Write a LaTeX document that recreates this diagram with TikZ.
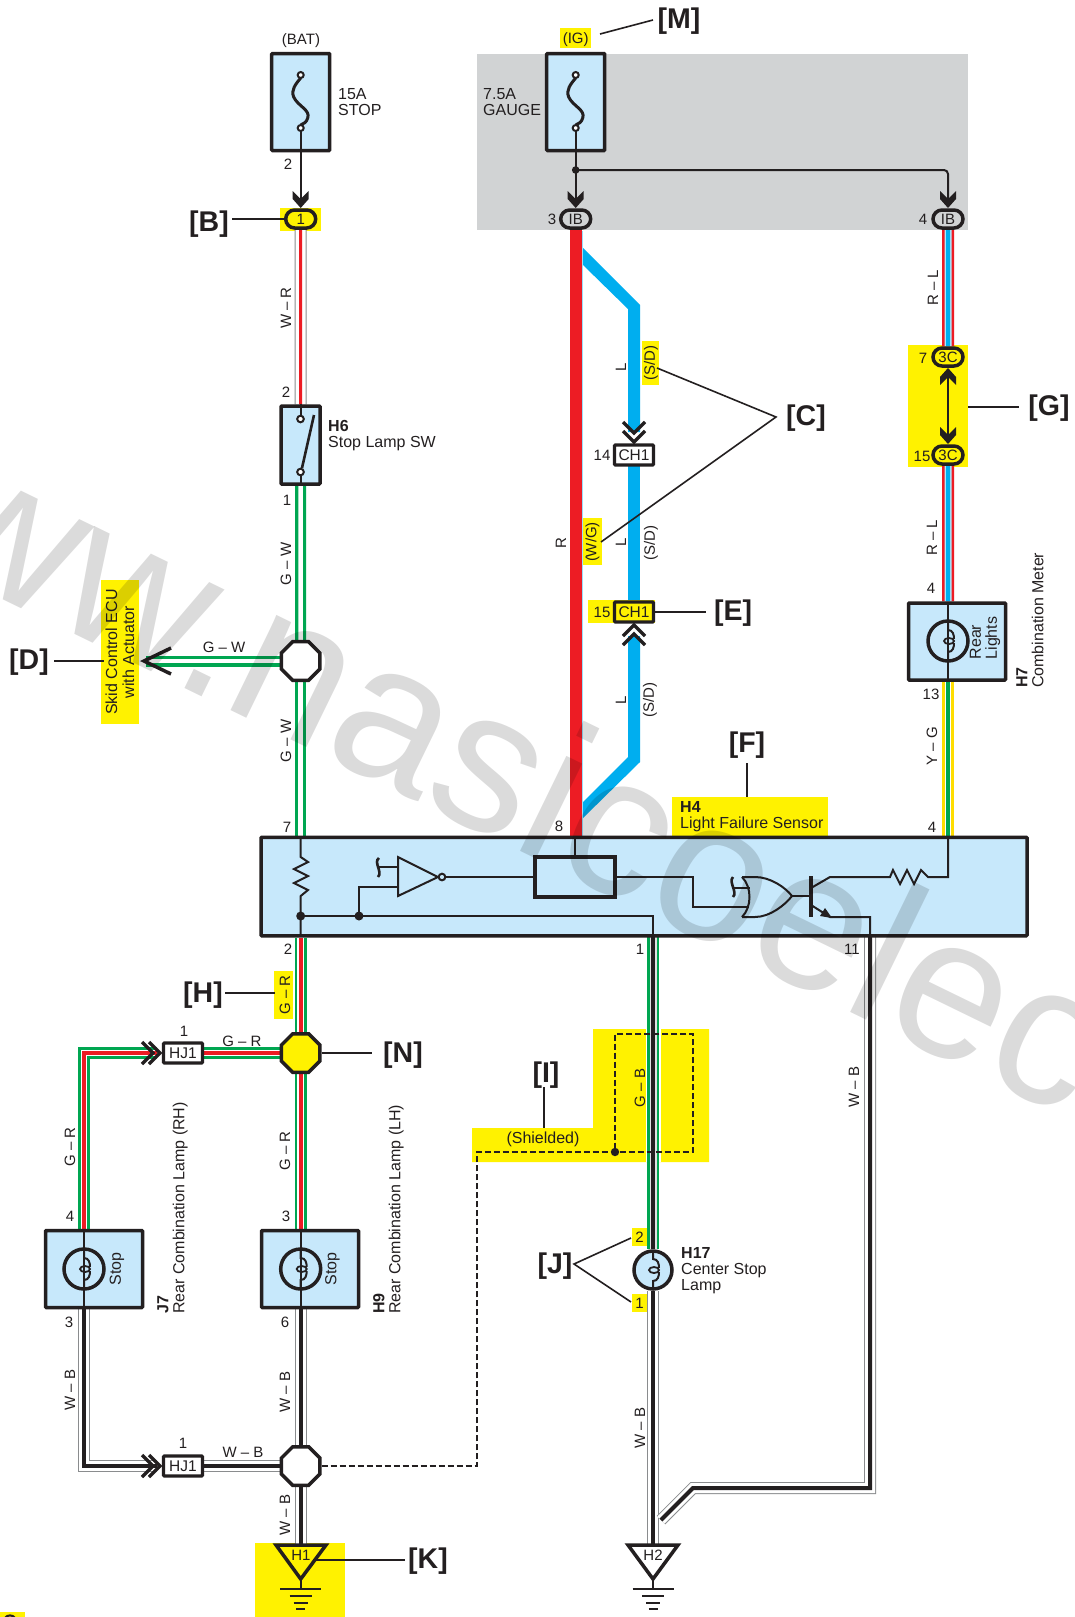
\documentclass[tikz,border=0pt]{standalone}
\usepackage{fontspec}
\setmainfont{Liberation Sans}
\usetikzlibrary{shapes.geometric,shapes.misc}
\definecolor{ink}{HTML}{231F20}
\definecolor{boxblue}{HTML}{C7E8FB}
\definecolor{hl}{HTML}{FFF200}
\definecolor{pgrey}{HTML}{D1D3D4}
\definecolor{wred}{HTML}{ED1C24}
\definecolor{wgreen}{HTML}{00A651}
\definecolor{wblue}{HTML}{00AEEF}
\definecolor{wyel}{HTML}{FFDD00}
\definecolor{wgrey}{HTML}{8A8C8E}
\pgfdeclarelayer{bglayer}
\pgfdeclarelayer{wirelayer}
\pgfdeclarelayer{toplayer}
\pgfsetlayers{bglayer,wirelayer,main,toplayer}
\newcommand\wirethree[6]{%
  \draw[line width=#4,#1] #6;
  \draw[line width=#5,#2] #6;
  \draw[line width=3,#3] #6;}
\newcommand\wireWR[1]{\wirethree{wgrey}{white}{wred}{12}{10}{#1}}
\newcommand\wireWB[1]{\draw[line width=12,wgrey] #1; \draw[line width=10,white] #1; \draw[line width=4,ink] #1;}
\newcommand\wireGW[1]{\draw[line width=11,wgreen] #1; \draw[line width=4.5,white] #1;}
\newcommand\wireGR[1]{\draw[line width=12,wgreen] #1; \draw[line width=6.5,white] #1; \draw[line width=4,wred] #1;}
\newcommand\wireGB[1]{\draw[line width=12.5,wgreen] #1; \draw[line width=7,pgrey!70!white] #1; \draw[line width=4,ink] #1;}
\newcommand\wireRL[1]{\draw[line width=12,wred] #1; \draw[line width=7,white!70!wblue] #1; \draw[line width=4,wblue] #1;}
\newcommand\wireYG[1]{\draw[line width=12,wyel] #1; \draw[line width=6.5,white] #1; \draw[line width=3.5,wgreen] #1;}
\newcommand\solidchev[3]{\fill[ink,shift={(#1,#2)},yscale=#3] (0,0)--(-8,-9)--(-8,-17)--(0,-9)--(8,-17)--(8,-9)--cycle;}
\newcommand\openchev[4]{\draw[ink,line width=3.3,miter limit=10,shift={(#1,#2)},rotate=#3] (-#4,-#4)--(0,0)--(#4,-#4);}
\newcommand\lampsym[2]{%
  \begin{scope}[shift={(#1,#2)}]
  \draw[ink,line width=2] (0,-20) -- (0,-11) .. controls (5,-11) and (6,-6) .. (6,-2) ;
  \draw[ink,line width=2] (0,20) -- (0,11) .. controls (5,11) and (6,6) .. (6,2);
  \draw[ink,line width=1.8] (1,0) ellipse [x radius=5,y radius=3];
  \end{scope}}
\newcommand\fusesym[1]{%
  \draw[ink,line width=3] (#1,78) .. controls (#1-5,84) and (#1-10,90) .. (#1-7,97) .. controls (#1-3,106) and (#1+10,110) .. (#1+7,118) .. controls (#1+6,122) and (#1+3,124) .. (#1,125);
  \draw[ink,line width=2,fill=white] (#1,75) circle (3);
  \draw[ink,line width=2,fill=white] (#1,128) circle (3);}
\newcommand\groundsym[1]{%
  \draw[ink,line width=2] (#1,1579) -- (#1,1589);
  \draw[ink,line width=2] (#1-20.5,1589) -- (#1+20.5,1589);
  \draw[ink,line width=2] (#1-11,1596) -- (#1+11,1596);
  \draw[ink,line width=2] (#1-7,1603) -- (#1+7,1603);
  \draw[ink,line width=2] (#1-4.5,1609) -- (#1+4.5,1609);}
\tikzset{
  lbl/.style={font=\fontsize{15}{15}\selectfont,text=ink,inner sep=0pt,align=left},
  lblv/.style={lbl,rotate=90},
  namelbl/.style={font=\fontsize{16}{16}\selectfont,text=ink,inner sep=0pt,align=left},
  letter/.style={font=\fontsize{28.5}{28.5}\selectfont\bfseries,text=ink,inner sep=0pt},
  lead/.style={ink,line width=1.6},
  thin/.style={ink,line width=2},
  pbox/.style={draw=ink,fill=boxblue,line width=3.5,rectangle,inner sep=0pt,rounded corners=0.8pt},
  conn/.style={draw=ink,line width=3.5,rounded rectangle,minimum width=30,minimum height=18,inner sep=0pt,font=\fontsize{15}{15}\selectfont,text=ink},
  chbox/.style={draw=ink,line width=3.2,rectangle,fill=white,minimum width=39,minimum height=20,inner sep=0pt,font=\fontsize{15.5}{15}\selectfont,text=ink,rounded corners=0.8pt},
  octa/.style={draw=ink,fill=white,line width=3.5,regular polygon,regular polygon sides=8,minimum size=41.7,inner sep=0pt},
  hlt/.style={fill=hl,draw=none},
}
\begin{document}
\begin{tikzpicture}[x=1pt,y=-1pt,line join=miter]
\useasboundingbox (0,0) rectangle (1074,1617);
\begin{pgfonlayer}{bglayer}
\fill[white] (0,0) rectangle (1074,1617);
\fill[pgrey] (477,54) rectangle (968,230);
\fill[hlt] (280,208) rectangle (321,231);
\fill[hlt] (560,28) rectangle (591,48);
\fill[hlt] (908,345) rectangle (968,467);
\fill[hlt] (642,341) rectangle (659,385);
\fill[hlt] (583,518) rectangle (602,565);
\fill[hlt] (588,600) rectangle (655,623);
\fill[hlt] (101,580) rectangle (139,724);
\fill[hlt] (672,797) rectangle (828,836);
\fill[hlt] (274,971) rectangle (293,1019);
\fill[hlt] (593,1029) -- (709,1029) -- (709,1162) -- (472,1162) -- (472,1128) -- (593,1128) -- cycle;
\fill[white] (645.5,1029) rectangle (660.5,1162);
\fill[hlt] (632,1228) rectangle (647,1246);
\fill[hlt] (632,1294) rectangle (647,1312);
\fill[hlt] (255,1543) rectangle (345,1617);
\fill[hlt] (0,1612) rectangle (25,1617);
\end{pgfonlayer}
\draw[ink,line width=2] (5,1618) .. controls (7,1614.5) and (13,1614.5) .. (15,1618);

% nodes
\node[pbox,minimum width=58,minimum height=97] (fuseB) at (300.7,102) {};
\node[pbox,minimum width=58,minimum height=97] (fuseI) at (575.7,102) {};
\node[conn,fill=hl] (c1) at (300.7,219) {1};
\node[conn,fill=pgrey] (ib3) at (575.7,219) {IB};
\node[conn,fill=pgrey] (ib4) at (948,219) {IB};
\node[conn,fill=hl] (c7) at (948,357) {3C};
\node[conn,fill=hl] (c15) at (948,455) {3C};
\node[pbox,minimum width=39,minimum height=78] (h6) at (300.5,445) {};
\node[octa] (octD) at (300.7,661) {};
\node[pbox,minimum width=97,minimum height=77] (h7) at (957,641.5) {};
\node[chbox] (ch14) at (634,455) {CH1};
\node[chbox,fill=hl] (ch15) at (634,612) {CH1};
\node[pbox,minimum width=766,minimum height=98.5] (h4) at (644,886.5) {};
\node[octa,fill=hl] (octN) at (300.7,1053) {};
\node[chbox,minimum width=39,minimum height=20] (hj1a) at (183,1053) {HJ1};
\node[chbox,minimum width=39,minimum height=20] (hj1b) at (183,1466) {HJ1};
\node[octa] (octB) at (300.7,1466) {};
\node[pbox,minimum width=97,minimum height=77] (j7) at (94,1269) {};
\node[pbox,minimum width=97,minimum height=77] (h9) at (310,1269) {};
\node[draw=ink,fill=boxblue,line width=3.5,circle,minimum size=38,inner sep=0pt] (h17) at (653,1270) {};
\coordinate (dend) at (146,661);
\coordinate (hj1aw) at (157,1053);
\coordinate (hj1bw) at (157,1466);
\coordinate (h1) at (300.7,1545);
\coordinate (h2) at (653,1545);
\coordinate (jf) at (575.7,170);
\coordinate (bendW) at (870,1488);
\coordinate (bendX) at (693,1488);
\coordinate (bendY) at (661,1520);

\begin{pgfonlayer}{wirelayer}
\wireWR{(c1) -- (h6)}
\wireGW{(h6) -- (octD)}
\wireGW{(octD) -- (h4.north -| octD)}
\wireGW{(octD) -- (dend)}
\fill[wred] (569.7,219) rectangle (581.7,837);
\draw[white!60!wblue,line width=.6] (582,231) -- (582,837);
\fill[wblue] (583,248) -- (640,305) -- (640,432) -- (628,432) -- (628,309) -- (583,265) -- cycle;
\fill[wblue] (628,466) rectangle (640,600);
\fill[wblue] (628,636) -- (640,636) -- (640,762) -- (583,818) -- (583,802) -- (628,757) -- cycle;
\wireRL{(ib4) -- (c7)}
\wireRL{(c15) -- (h7.north -| c15)}
\wireYG{(h7.south -| c15) -- (h4.north -| c15)}
\wireGR{(h4.south -| octN) -- (octN)}
\wireGR{(octN) -- (hj1a)}
\wireGR{(octN) -- (h9.north -| octN)}
\wireGR{(84,1229) -- (84,1053) -- (hj1aw)}
\wireWB{(84,1309) -- (84,1466) -- (hj1bw)}
\wireWB{(hj1b) -- (octB)}
\wireWB{(h9.south -| octB) -- (octB)}
\wireWB{(octB) -- (h1)}
\wireGB{(653,936) -- (h17)}
\wireWB{(h17) -- (h2)}
\wireWB{(870,936) -- (bendW) -- (bendX) -- (bendY)}
\end{pgfonlayer}

% fuses and their outputs
\fusesym{300.7}
\fusesym{575.7}
\draw[thin] (300.7,131) -- (300.7,200);
\solidchev{300.7}{208}{1}
\draw[thin] (575.7,131) -- (575.7,200);
\solidchev{575.7}{208}{1}
\fill[ink] (jf) circle (3.8);
\draw[thin,rounded corners=4pt] (jf) -- (948,170) -- (948,200);
\solidchev{948}{208}{1}
% 3C pair
\draw[thin] (948,375) -- (948,435);
\solidchev{948}{368}{-1}
\solidchev{948}{444}{1}
% H6 switch
\draw[thin] (h6.north) -- (300.5,416);
\draw[thin] (300.5,475) -- (h6.south);
\draw[ink,line width=2.6] (302,468) -- (314,415);
\draw[ink,line width=2,fill=white] (300.5,419) circle (3.3);
\draw[ink,line width=2,fill=white] (300.5,472) circle (3.3);
% lamps
\draw[thin] (948,602) -- (948,681);
\draw[ink,line width=3.5] (948,641) circle (20);
\lampsym{948}{641}
\draw[thin] (84,1229) -- (84,1309);
\draw[ink,line width=3.5] (84,1269) circle (20);
\lampsym{84}{1269}
\draw[thin] (300.7,1229) -- (300.7,1309);
\draw[ink,line width=3.5] (300.7,1269) circle (20);
\lampsym{300.7}{1269}
\lampsym{653}{1270}
% chevrons
\openchev{634}{433}{0}{11}
\openchev{634}{442}{0}{11}
\openchev{634}{625}{180}{11}
\openchev{634}{634}{180}{11}
\openchev{160}{1053}{90}{11}
\openchev{153}{1053}{90}{11}
\openchev{160}{1466}{90}{11}
\openchev{153}{1466}{90}{11}
\draw[ink,line width=3.5,miter limit=10] (171,648) -- (144,661) -- (171,674);
% H4 internals
\draw[thin] (300.7,837) -- (300.7,857) -- (308,862) -- (294,869) -- (308,876) -- (294,883) -- (308,890) -- (300.7,896) -- (300.7,936);
\draw[thin] (300.7,916) -- (653,916) -- (653,936);
\fill[ink] (300.7,916) circle (4.5);
\fill[ink] (359,916) circle (4.5);
\draw[thin] (359,916) -- (359,887) -- (398,887);
\draw[thin] (398,857) -- (398,896) -- (438,877) -- cycle;
\draw[thin,fill=boxblue] (442,877) circle (3.3);
\draw[thin] (445.5,877) -- (535,877);
\node[draw=ink,fill=boxblue,line width=3.2,rectangle,minimum width=80,minimum height=40,inner sep=0pt] (sens) at (575,877) {};
\draw[thin] (575,837) -- (sens.north);
\draw[ink,line width=2.6] (379,858) .. controls (373,862) and (383,872) .. (378,877);
\draw[thin] (378,867) -- (398,867);
\draw[thin] (sens.east) -- (693,877) -- (693,907) -- (749,907);
\draw[ink,line width=2.6] (733,877) .. controls (728,882) and (738,892) .. (733,897);
\draw[thin] (733,888) -- (750,888);
\draw[thin] (742,877) .. controls (752,887) and (752,907) .. (742,917);
\draw[thin] (742,877) -- (755,877) .. controls (770,877) and (785,887) .. (792,896) .. controls (785,905) and (770,917) .. (755,917) -- (742,917);
\draw[thin] (792,896) -- (811,896);
\draw[ink,line width=3.2] (811,876) -- (811,917);
\draw[thin] (811,888) -- (830,877) -- (890,877) -- (893,870) -- (900,884) -- (907,870) -- (914,884) -- (921,870) -- (928,877) -- (948,877) -- (948,837);
\draw[thin] (811,905) -- (830,917) -- (870,917) -- (870,936);
\fill[ink] (832,918) -- (820,916) -- (825,908) -- cycle;
% ground triangles
\draw[ink,line width=3.5,fill=hl,line join=miter] (276,1545) -- (326,1545) -- (300.7,1579) -- cycle;
\draw[ink,line width=3.5,line join=miter] (628,1545) -- (678,1545) -- (653,1579) -- cycle;
\groundsym{300.7}
\groundsym{653}
\node[lbl] (th1) at (301,1555) {H1};
\node[lbl] (th2) at (653,1555) {H2};
% shield
\draw[ink,line width=1.7,dash pattern=on 6pt off 3pt] (octB.east) -- (477,1466) -- (477,1152) -- (693,1152) -- (693,1034) -- (615,1034) -- (615,1152);
\fill[ink] (615,1152) circle (4.2);
% leader lines
\draw[lead] (600,34) -- (653,20);
\draw[lead] (c1.west) -- (232,219);
\draw[lead] (657,368) -- (776,417) -- (601,542);
\draw[lead] (968,407) -- (1019,407);
\draw[lead] (655,612) -- (706,612);
\draw[lead] (54,661) -- (104,661);
\draw[lead] (747,763) -- (747,797);
\draw[lead] (225,993) -- (275,993);
\draw[lead] (octN.east) -- (372,1053);
\draw[lead] (544,1087) -- (544,1128);
\draw[lead] (631,1238) -- (574,1264) -- (631,1302);
\draw[lead] (316,1560) -- (405,1560);
% text
\node[lbl] (t1) at (301,40.5) {(BAT)};
\node[namelbl,anchor=west] (t2) at (338,102.5) {15A\\STOP};
\node[lbl] (t3) at (575.7,39.5) {(IG)};
\node[namelbl,anchor=west] (t4) at (483,102.5) {7.5A\\GAUGE};
\node[lbl] (t5) at (288,164) {2};
\node[lbl] (t6) at (552,219) {3};
\node[lbl] (t7) at (923,219) {4};
\node[lblv] (t8) at (286,308) {W – R};
\node[lblv] (t9) at (933,288) {R – L};
\node[lbl] (t10) at (286,392) {2};
\node[lbl] (t11) at (287,500) {1};
\node[namelbl,anchor=west] (t12) at (328,436) {\textbf{H6}\\Stop Lamp SW};
\node[lblv] (t13) at (651,363) {(S/D)};
\node[lblv] (t14) at (621,367) {L};
\node[lbl] (t15) at (602,455) {14};
\node[lblv] (t16) at (561,543) {R};
\node[lblv] (t17) at (592.5,542) {(W/G)};
\node[lblv] (t18) at (621,542) {L};
\node[lblv] (t19) at (651,543) {(S/D)};
\node[lbl] (t20) at (602,612.5) {15};
\node[lblv] (t21) at (621,700) {L};
\node[lblv] (t22) at (650,700) {(S/D)};
\node[lbl] (t23) at (923,358) {7};
\node[lbl] (t24) at (922,456) {15};
\node[lblv] (t25) at (932,538) {R – L};
\node[lbl] (t26) at (931,588) {4};
\node[namelbl,rotate=90] (t27) at (985,638) {Rear\\Lights};
\node[namelbl,rotate=90,anchor=west] (t28) at (1030,688) {\textbf{H7}\\Combination Meter};
\node[lbl] (t29) at (931,694) {13};
\node[lblv] (t30) at (932,746) {Y – G};
\node[lblv] (t31) at (286,564) {G – W};
\node[lbl] (t32) at (224,647) {G – W};
\node[lblv] (t33) at (286,741) {G – W};
\node[namelbl,rotate=90,align=center,font=\fontsize{16}{17}\selectfont] (t34) at (120,652) {Skid Control ECU\\with Actuator};
\node[lbl] (t35) at (287,827) {7};
\node[lbl] (t36) at (559,826) {8};
\node[lbl] (t37) at (932,827) {4};
\node[namelbl,anchor=west] (t38) at (680,816.5) {\textbf{H4}\\Light Failure Sensor};
\node[lbl] (t39) at (288,949) {2};
\node[lbl] (t40) at (640,949) {1};
\node[lbl] (t41) at (852,949) {11};
\node[lblv] (t42) at (285,995) {G – R};
\node[lbl] (t43) at (184,1031) {1};
\node[lbl] (t44) at (242,1041) {G – R};
\node[lblv] (t45) at (70,1147) {G – R};
\node[lblv] (t46) at (285,1151) {G – R};
\node[namelbl] (t47) at (543,1139) {(Shielded)};
\node[lblv] (t48) at (640,1088) {G – B};
\node[lblv] (t49) at (854,1087) {W – B};
\node[lbl] (t50) at (70,1216) {4};
\node[lbl] (t51) at (286,1216) {3};
\node[namelbl,rotate=90] (t52) at (117,1269) {Stop};
\node[namelbl,rotate=90] (t53) at (332.5,1269) {Stop};
\node[namelbl,rotate=90,anchor=west] (t54) at (172.5,1314) {\textbf{J7}\\Rear Combination Lamp (RH)};
\node[namelbl,rotate=90,anchor=west] (t55) at (388.5,1314) {\textbf{H9}\\Rear Combination Lamp (LH)};
\node[lbl] (t56) at (69,1322) {3};
\node[lbl] (t57) at (285,1322) {6};
\node[lblv] (t58) at (70,1390) {W – B};
\node[lblv] (t59) at (285,1392) {W – B};
\node[lbl] (t60) at (183,1443) {1};
\node[lbl] (t61) at (243,1452) {W – B};
\node[lblv] (t62) at (285,1515) {W – B};
\node[lbl] (t63) at (639.5,1237) {2};
\node[lbl] (t64) at (639.5,1303) {1};
\node[namelbl,anchor=west] (t65) at (681,1270.5) {\textbf{H17}\\Center Stop\\Lamp};
\node[lblv] (t66) at (640,1428) {W – B};
% letter tags
\node[letter] (lM) at (679,21.5) {[M]};
\node[letter] (lB) at (209,224.5) {[B]};
\node[letter] (lC) at (806,418.5) {[C]};
\node[letter] (lG) at (1049,408.5) {[G]};
\node[letter] (lE) at (733,613.5) {[E]};
\node[letter] (lD) at (29,662.5) {[D]};
\node[letter] (lF) at (747,745.5) {[F]};
\node[letter] (lH) at (203,995.5) {[H]};
\node[letter] (lN) at (403,1055.5) {[N]};
\node[letter] (lI) at (546,1075.5) {[I]};
\node[letter] (lJ) at (555,1266.5) {[J]};
\node[letter] (lK) at (428,1561.5) {[K]};
\begin{pgfonlayer}{toplayer}
\begin{scope}
\clip (0,0) rectangle (1074,1617);
\node[anchor=base west,rotate=-26,inner sep=0pt,text=black,text opacity=.14,font=\fontsize{200}{200}\selectfont] (wm) at (-211,495) {www.nasicoelec};
\end{scope}
\end{pgfonlayer}
\end{tikzpicture}
\end{document}
